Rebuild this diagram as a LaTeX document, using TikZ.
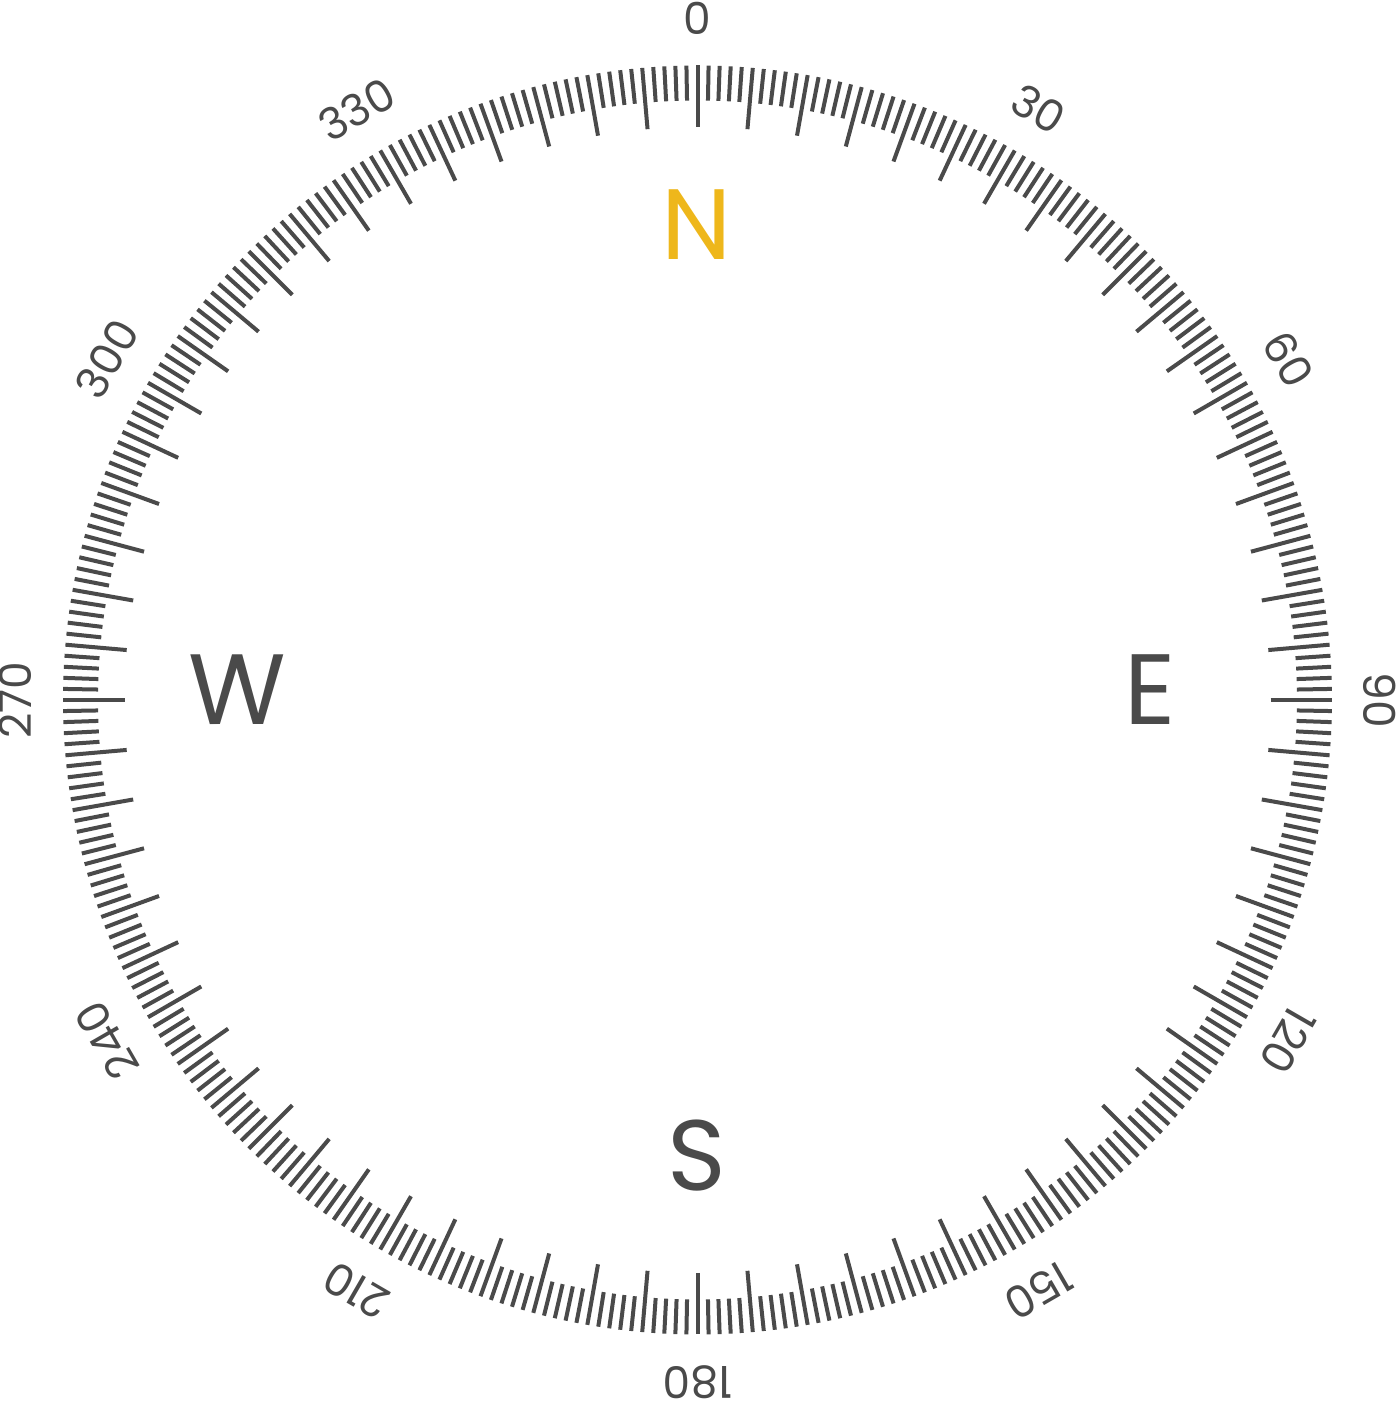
\documentclass[tikz,border=0pt]{standalone}
\usepackage{fontspec}
\setmainfont{Poppins}
\definecolor{dial}{HTML}{4A4A4A}
\definecolor{north}{HTML}{EEB71B}
\begin{document}
\begin{tikzpicture}[x=1pt,y=1pt,
  tick/.style={draw=dial,line width=4pt},
  deg/.style={text=dial,inner sep=0pt,font=\fontsize{44}{44}\selectfont},
  card/.style={text=dial,inner sep=0pt,font=\fontsize{100}{100}\selectfont}]
\useasboundingbox (0,0) rectangle (1396,1401);
\coordinate (c) at (697.5,701);
\foreach \i in {0,...,359}{
  \pgfmathtruncatemacro{\m}{mod(\i,5)}
  \ifnum\m=0
    \draw[tick] ([shift={(90-\i:573)}]c) -- ([shift={(90-\i:634.5)}]c);
  \else
    \draw[tick] ([shift={(90-\i:599.5)}]c) -- ([shift={(90-\i:634.5)}]c);
  \fi
}
\foreach \d in {0,30,...,330}{
  \node[deg,rotate=-\d] (l\d) at ([shift={(90-\d:682)}]c) {\d};
}
\node[card,text=north] (N) at (697,1176) {N};
\node[card] (E) at (1150,711) {E};
\node[card] (S) at (697,245) {S};
\node[card] (W) at (237,711) {W};
\end{tikzpicture}
\end{document}
